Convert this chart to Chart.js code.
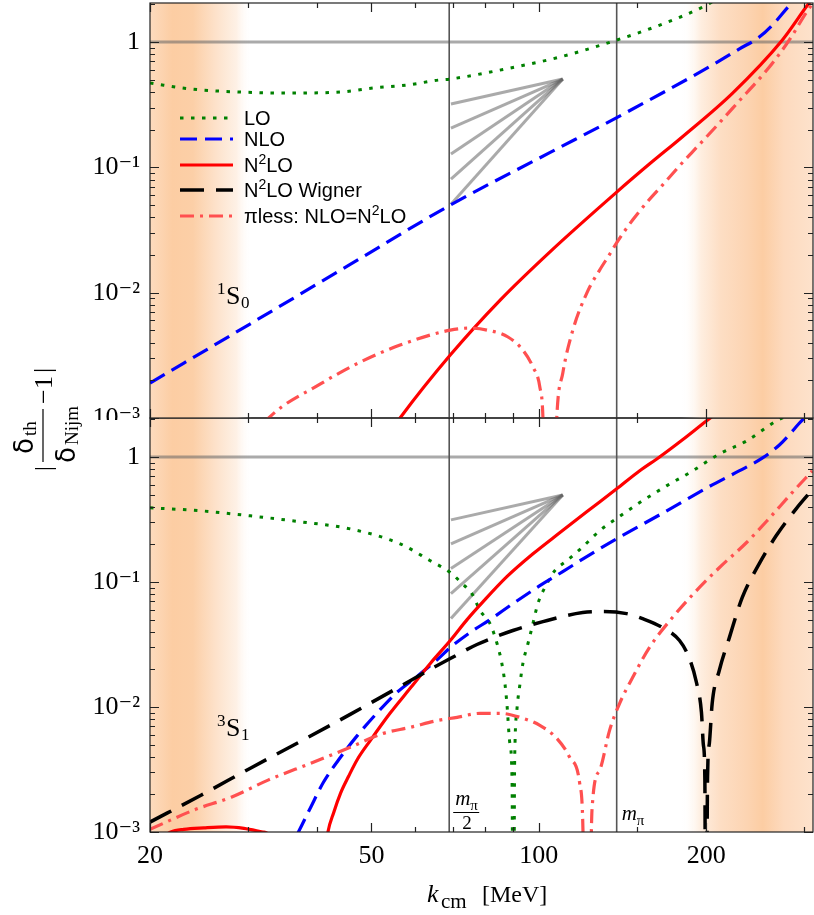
<!DOCTYPE html>
<html>
<head>
<meta charset="utf-8">
<script src="https://cdn.jsdelivr.net/npm/chart.js@4.4.0/dist/chart.umd.min.js"></script>
<style>
  html, body { margin: 0; padding: 0; background: #fff; }
  #wrap { position: relative; width: 814px; height: 915px; }
  #c3 { position: absolute; left: 0; top: 0; z-index: 1; }
  #c1 { position: absolute; left: 0; top: 0; z-index: 2; }
</style>
</head>
<body>
<div id="wrap">
  <canvas id="c3" width="814" height="915" style="width:814px;height:915px"></canvas>
  <canvas id="c1" width="814" height="420" style="width:814px;height:420px"></canvas>
</div>
<script>
// axis setup
const xMin = 20, xMax = 311, yMin = 1e-3, yMax = 2.05;
const xTicks = [20, 30, 40, 50, 60, 70, 80, 90, 100, 150, 200, 300];
const xTickLabels = [20, 50, 100, 200];
const yTicks = [0.001, 0.002, 0.003, 0.004, 0.005, 0.006, 0.007, 0.008, 0.009,
                0.01, 0.02, 0.03, 0.04, 0.05, 0.06, 0.07, 0.08, 0.09,
                0.1, 0.2, 0.3, 0.4, 0.5, 0.6, 0.7, 0.8, 0.9, 1, 2];
const yTickLabels = [[1, '1'], [0.1, '10⁻¹'], [0.01, '10⁻²'], [0.001, '10⁻³']];

const mPi = 138;
const bandLow = [20, 30.5];
const bandHigh = [180, 311];

// 1S0 panel
const k1LO = [20, 23.7, 29.1, 35.8, 44.0, 50.4, 58.0, 65.9, 69.3, 88.7, 109, 138, 165, 200, 215];
const v1LO = [0.471, 0.422, 0.399, 0.392, 0.399, 0.43, 0.454, 0.497, 0.507, 0.62, 0.759, 1.037, 1.367, 1.97, 2.4];
const k1NLO = [20, 30.3, 45.8, 69.3, 104.6, 138.6, 205, 229, 249, 265, 281.6, 293];
const v1NLO = [0.0019, 0.00565, 0.0168, 0.05, 0.131, 0.252, 0.655, 0.879, 1.096, 1.418, 1.94, 2.3];
const k1N2LO = [52, 56.3, 69.3, 85.2, 104.6, 138, 158, 181, 223, 274, 306, 315];
const v1N2LO = [0.0006, 0.001, 0.00318, 0.00873, 0.0211, 0.0635, 0.1063, 0.175, 0.392, 1.04, 2.05, 2.4];
const k1PL = [30, 32.7, 40.5, 47.7, 56.3, 69.3, 75.2, 80.7, 88.0, 93.6, 97.6, 100.4, 101.7, 104.2, 107.7,
              110.4, 115.1, 122.4, 128.6, 134.1, 138.6, 147.4, 156, 166.8, 178.8, 188.7, 200, 213.3, 229, 252.4, 270.6, 285, 299.6, 312];
const v1PL = [0.0006, 0.001, 0.00187, 0.00279, 0.00382, 0.00503, 0.00522, 0.00503, 0.00443, 0.00348, 0.00255, 0.00177, 0.00101, 0.00001, 0.00101,
              0.00228, 0.00503, 0.0103, 0.01515, 0.0203, 0.0258, 0.038, 0.0519, 0.0722, 0.1024, 0.1325, 0.1745, 0.2384, 0.338, 0.545, 0.802, 1.117, 1.612, 2.1];

// 3S1 panel
const k3LO = [20, 24.7, 30.3, 37.3, 45.8, 56.3, 63.8, 69.3, 72.8, 75.8, 78.4, 81.7, 84.1, 85.8, 86.9, 87.6, 88.7, 89.5,
              90.0, 90.4, 90.6, 91.3, 92.5, 93.6, 95.6, 97.2, 99.6, 103.4, 106.8, 112.3, 119.5, 128.6, 138.5,
              151.6, 169.6, 188.9, 211, 236, 267, 290];
const v3LO = [0.392, 0.371, 0.338, 0.303, 0.266, 0.202, 0.148, 0.119, 0.097, 0.0806, 0.059, 0.0465, 0.0322, 0.0223, 0.0154, 0.0107, 0.0051, 0.0025,
              0.00001, 0.0025, 0.0051, 0.0094, 0.0154, 0.0223, 0.0322, 0.0432, 0.0671, 0.097, 0.123, 0.148, 0.188, 0.257, 0.326,
              0.43, 0.587, 0.773, 1.057, 1.34, 1.94, 2.3];
const k3NLO = [36.8, 38.9, 41.0, 44.0, 47.2, 51.3, 55.6, 60.4, 65.7, 69.3, 75.2, 81.7, 89.8, 100.4, 110.4,
               123.4, 138, 164.8, 205, 229, 252.4, 270.6, 281.6, 293, 308.5];
const v3NLO = [0.00096, 0.00158, 0.0025, 0.00396, 0.00593, 0.00906, 0.0131, 0.01755, 0.024, 0.0299, 0.0394, 0.05, 0.0671, 0.0934, 0.121,
               0.165, 0.222, 0.344, 0.598, 0.773, 0.982, 1.247, 1.498, 1.834, 2.33];
const k3N2LO = [21.0, 21.8, 23, 25, 27.4, 29.5, 31.9, 33, 37, 41.7, 42.8, 44.0, 45.5, 47.2, 49.8, 54.0, 58.7, 63.8, 69.3, 74.3,
                79.4, 87.6, 97.6, 109, 121.9, 138, 151.6, 164.8, 181, 200, 211];
const v3N2LO = [0.0009, 0.001, 0.00105, 0.00108, 0.0011, 0.00107, 0.001, 0.0009, 0.00001, 0.00096, 0.00144, 0.00204, 0.00279, 0.00382, 0.00541, 0.0089, 0.0141, 0.0223, 0.034, 0.05,
                0.0696, 0.1102, 0.168, 0.2474, 0.364, 0.556, 0.773, 1.0, 1.367, 1.94, 2.33];
const k3WIG = [20, 24.7, 30.3, 37.3, 45.8, 56.3, 63.8, 69.3, 77.4, 89.8, 101.7, 119.9, 130.2, 143.8, 153.6, 166.8,
               179, 186.5, 192, 196, 197.6, 198.8, 199.6, 201.0, 202.5, 204.9, 211, 220, 232, 249, 267, 290, 311];
const v3WIG = [0.0012, 0.00197, 0.00324, 0.00531, 0.00873, 0.0146, 0.02, 0.0244, 0.0316, 0.0409, 0.0482, 0.0569, 0.058, 0.0558, 0.0509, 0.0432,
               0.034, 0.0244, 0.0157, 0.00906, 0.00494, 0.0026, 0.00001, 0.00274, 0.0051, 0.0107, 0.0196, 0.0359, 0.075, 0.14, 0.234, 0.3846, 0.555];
const k3PL = [20, 24, 28.0, 32.6, 38.9, 45.8, 52.5, 58.7, 65.7, 71.3, 78.4, 85.2, 92.5, 100.4, 107.7, 113.6, 118.4, 119.9,
              122.3, 124.6, 128.6, 134, 139.7, 147.4, 158, 173.8, 192, 211, 236, 259, 285, 310];
const v3PL = [0.00105, 0.0015, 0.0019, 0.0026, 0.00355, 0.00476, 0.00615, 0.00687, 0.0078, 0.00826, 0.0089, 0.0089, 0.00826, 0.00713, 0.00561, 0.00396, 0.00246, 0.00124,
              0.00001, 0.0015, 0.00312, 0.0065, 0.0107, 0.0172, 0.0299, 0.0519, 0.0853, 0.130, 0.206, 0.32, 0.516, 0.773];

// power-law guide fans
const fanK = [69.5, 110.4];
const fanApex1 = 0.507, fanEnds1 = [0.32, 0.206, 0.128, 0.0807, 0.0509];
const fanApex3 = 0.497, fanEnds3 = [0.314, 0.202, 0.128, 0.0807, 0.051];

const styles = {
  LO:   { color: '#008000', width: 3,   dash: [3.5, 7.5], order: 4 },
  NLO:  { color: '#0000ff', width: 3.2, dash: [17, 8], order: 3 },
  N2LO: { color: '#ff0000', width: 3.2, dash: [], order: 2 },
  WIG:  { color: '#000000', width: 3.5, dash: [24, 12], order: 1 },
  PL:   { color: '#ff5050', width: 3.2, dash: [14, 6, 3, 6], order: 0 }
};
const legendRows = [
  ['LO',   [['LO', '']]],
  ['NLO',  [['NLO', '']]],
  ['N2LO', [['N', ''], ['2', 'sup'], ['LO', '']]],
  ['WIG',  [['N', ''], ['2', 'sup'], ['LO Wigner', '']]],
  ['PL',   [['πless: NLO=N', ''], ['2', 'sup'], ['LO', '']]]
];

const SERIF = "'Liberation Serif', 'DejaVu Serif', serif";
const SANS = "'Liberation Sans', Arial, sans-serif";
Chart.defaults.font.family = SERIF;
Chart.defaults.color = '#000';

const pts = (k, v) => k.map((kk, i) => ({ x: kk, y: v[i] }));

function curve(name, k, v) {
  const s = styles[name];
  return {
    label: name, data: pts(k, v), borderColor: s.color, borderWidth: s.width,
    borderDash: s.dash, pointRadius: 0, fill: false, order: s.order,
    cubicInterpolationMode: 'monotone', clip: 0
  };
}
function fans(apex, ends) {
  return ends.map(e => ({
    label: 'fan', data: [{ x: fanK[0], y: e }, { x: fanK[1], y: apex }],
    borderColor: 'rgba(100,100,100,0.55)', borderWidth: 3, pointRadius: 0,
    fill: false, order: 9, clip: 0
  }));
}

function rich(ctx, parts, x, y, size, family) {
  let cx = x;
  parts.forEach(([t, m]) => {
    const small = m === 'sup' || m === 'sub';
    const fs = small ? Math.round(size * 0.7) : size;
    ctx.font = (m === 'it' ? 'italic ' : '') + fs + 'px ' + family;
    const dy = m === 'sup' ? -size * 0.4 : m === 'sub' ? size * 0.25 : 0;
    ctx.fillText(t, cx, y + dy);
    cx += ctx.measureText(t).width;
  });
}

function band(ctx, x, a, lim, stops) {
  const x0 = x.getPixelForValue(lim[0]), x1 = x.getPixelForValue(lim[1]);
  const g = ctx.createLinearGradient(x0, 0, x1, 0);
  stops.forEach(([p, c]) => g.addColorStop(p, c));
  ctx.fillStyle = g;
  ctx.fillRect(x0, a.top, x1 - x0, a.bottom - a.top);
}
const lowStops = [[0, 'rgb(253,219,190)'], [0.22, 'rgb(252,205,163)'], [0.42, 'rgb(252,207,167)'],
                  [0.65, 'rgb(253,226,203)'], [0.85, 'rgb(254,241,230)'], [1, 'rgba(255,255,255,0)']];
const highStops = [[0, 'rgba(255,255,255,0)'], [0.15, 'rgb(254,238,224)'], [0.3, 'rgb(253,222,196)'],
                   [0.5, 'rgb(252,212,178)'], [0.62, 'rgb(252,205,163)'], [0.78, 'rgb(253,218,190)'], [1, 'rgb(253,226,204)']];

const panelPlugin = {
  id: 'panel',
  beforeDatasetsDraw(chart) {
    const { ctx, chartArea: a, scales: { x, y } } = chart;
    ctx.save();
    ctx.beginPath(); ctx.rect(a.left, a.top, a.right - a.left, a.bottom - a.top); ctx.clip();
    band(ctx, x, a, bandLow, lowStops);
    band(ctx, x, a, bandHigh, highStops);
    const py = y.getPixelForValue(1);
    ctx.strokeStyle = 'rgba(100,100,100,0.55)'; ctx.lineWidth = 3;
    ctx.beginPath(); ctx.moveTo(a.left, py); ctx.lineTo(a.right, py); ctx.stroke();
    ctx.strokeStyle = '#555'; ctx.lineWidth = 1.6;
    [mPi / 2, mPi].forEach(k => {
      const px = x.getPixelForValue(k);
      ctx.beginPath(); ctx.moveTo(px, a.top); ctx.lineTo(px, a.bottom); ctx.stroke();
    });
    ctx.restore();
  },
  afterDatasetsDraw(chart, args, o) {
    const { ctx, chartArea: a, scales: { x, y } } = chart;
    ctx.save();
    // frame + inward ticks
    ctx.strokeStyle = '#222'; ctx.lineWidth = 1.2;
    ctx.beginPath();
    x.ticks.forEach(t => {
      const px = Math.round(x.getPixelForValue(t.value)) + 0.5;
      const len = xTickLabels.includes(t.value) ? 9 : 5;
      ctx.moveTo(px, a.top); ctx.lineTo(px, a.top + len);
      ctx.moveTo(px, a.bottom); ctx.lineTo(px, a.bottom - len);
    });
    y.ticks.forEach(t => {
      if (t.value > yMax) return;
      const py = Math.round(y.getPixelForValue(t.value)) + 0.5;
      const dec = Math.abs(Math.log10(t.value) - Math.round(Math.log10(t.value))) < 1e-9;
      const len = dec ? 9 : 5;
      ctx.moveTo(a.left, py); ctx.lineTo(a.left + len, py);
      ctx.moveTo(a.right, py); ctx.lineTo(a.right - len, py);
    });
    ctx.stroke();
    ctx.strokeRect(a.left, a.top, a.right - a.left, a.bottom - a.top);

    ctx.fillStyle = '#000'; ctx.textAlign = 'left'; ctx.textBaseline = 'alphabetic';
    // partial wave label
    const lx = x.getPixelForValue(o.wave.k), ly = y.getPixelForValue(o.wave.v);
    ctx.font = '17px ' + SERIF; ctx.fillText(o.wave.sup, lx, ly - 10);
    ctx.font = '26px ' + SERIF; ctx.fillText('S', lx + 9, ly);
    ctx.font = '17px ' + SERIF; ctx.fillText(o.wave.sub, lx + 24, ly + 4);

    if (o.legend) {
      legendRows.forEach(([name, parts], i) => {
        const s = styles[name];
        const ry = [118, 139, 165, 190, 216][i];
        ctx.strokeStyle = s.color; ctx.lineWidth = s.width; ctx.setLineDash(s.dash);
        ctx.beginPath(); ctx.moveTo(180, ry); ctx.lineTo(233, ry); ctx.stroke();
        ctx.setLineDash([]);
        rich(ctx, parts, 244, ry + 7, 20, SANS);
      });
    }
    if (o.bottom) {
      // m_pi markers
      const h = x.getPixelForValue(mPi / 2), f = x.getPixelForValue(mPi);
      rich(ctx, [['m', 'it'], ['π', 'sub']], h + 6, 805, 21, SERIF);
      ctx.lineWidth = 1; ctx.strokeStyle = '#000';
      ctx.beginPath(); ctx.moveTo(h + 4, 812.5); ctx.lineTo(h + 30, 812.5); ctx.stroke();
      ctx.font = '19px ' + SERIF; ctx.fillText('2', h + 13, 829);
      rich(ctx, [['m', 'it'], ['π', 'sub']], f + 5, 820, 21, SERIF);
      // x title
      rich(ctx, [['k', 'it']], 427, 902, 26, SERIF);
      ctx.font = '21px ' + SERIF; ctx.fillText('cm', 441, 908);
      ctx.font = '24px ' + SERIF; ctx.fillText('[MeV]', 482, 902);
      // y title (rotated fraction)
      ctx.save();
      ctx.translate(43, 419); ctx.rotate(-Math.PI / 2);
      ctx.font = '24px ' + SERIF; ctx.fillText('|', -52, 8);
      ctx.font = '26px ' + "'DejaVu Sans', sans-serif"; ctx.fillText('δ', -35, -10);
      ctx.font = '19px ' + SERIF; ctx.fillText('th', -17, -7);
      ctx.font = '26px ' + "'DejaVu Sans', sans-serif"; ctx.fillText('δ', -44, 32);
      ctx.font = '19px ' + SERIF; ctx.fillText('Nijm', -26, 35);
      ctx.font = '26px ' + SERIF; ctx.fillText('−', 15, 9); ctx.fillText('1', 30, 9); ctx.fillText('|', 46, 8);
      ctx.lineWidth = 1.2; ctx.beginPath(); ctx.moveTo(-43, 0); ctx.lineTo(10, 0); ctx.stroke();
      ctx.restore();
    }
    ctx.restore();
  }
};

function options(bottom) {
  return {
    responsive: false, animation: false,
    layout: { padding: bottom ? { top: 418, right: 1, left: 0, bottom: 0 } : { top: 3, right: 1, left: 0, bottom: 2 } },
    scales: {
      x: {
        type: 'logarithmic', min: xMin, max: xMax, display: bottom,
        afterBuildTicks: s => { s.ticks = xTicks.map(v => ({ value: v })); },
        afterFit: s => { if (bottom) s.height = 83; s.paddingLeft = 0; s.paddingRight = 0; },
        grid: { display: false, drawTicks: false }, border: { display: false },
        ticks: { autoSkip: false, maxRotation: 0, padding: 9, font: { size: 26, family: SERIF }, color: '#000',
                 callback: v => xTickLabels.includes(v) ? String(v) : '' }
      },
      y: {
        type: 'logarithmic', min: yMin, max: yMax,
        afterBuildTicks: s => { s.ticks = yTicks.map(v => ({ value: v })); },
        afterFit: s => { s.width = 150; s.paddingTop = 0; s.paddingBottom = 0; },
        grid: { display: false, drawTicks: false }, border: { display: false },
        ticks: { autoSkip: false, padding: 10, font: { size: 26, family: SERIF }, color: '#000',
                 callback: v => { const m = yTickLabels.find(p => Math.abs(p[0] - v) < v * 1e-6); return m ? m[1] : ''; } }
      }
    },
    plugins: {
      legend: { display: false }, tooltip: { enabled: false },
      panel: bottom
        ? { legend: false, bottom: true, wave: { k: 26.4, v: 0.00582, sup: '3', sub: '1' } }
        : { legend: true, bottom: false, wave: { k: 26.4, v: 0.0081, sup: '1', sub: '0' } }
    }
  };
}

new Chart(document.getElementById('c1'), {
  type: 'line',
  data: { datasets: [
    curve('LO', k1LO, v1LO), curve('NLO', k1NLO, v1NLO), curve('N2LO', k1N2LO, v1N2LO), curve('PL', k1PL, v1PL),
    ...fans(fanApex1, fanEnds1)
  ] },
  options: options(false),
  plugins: [panelPlugin]
});

new Chart(document.getElementById('c3'), {
  type: 'line',
  data: { datasets: [
    curve('LO', k3LO, v3LO), curve('NLO', k3NLO, v3NLO), curve('N2LO', k3N2LO, v3N2LO),
    curve('WIG', k3WIG, v3WIG), curve('PL', k3PL, v3PL),
    ...fans(fanApex3, fanEnds3)
  ] },
  options: options(true),
  plugins: [panelPlugin]
});
</script>
</body>
</html>
